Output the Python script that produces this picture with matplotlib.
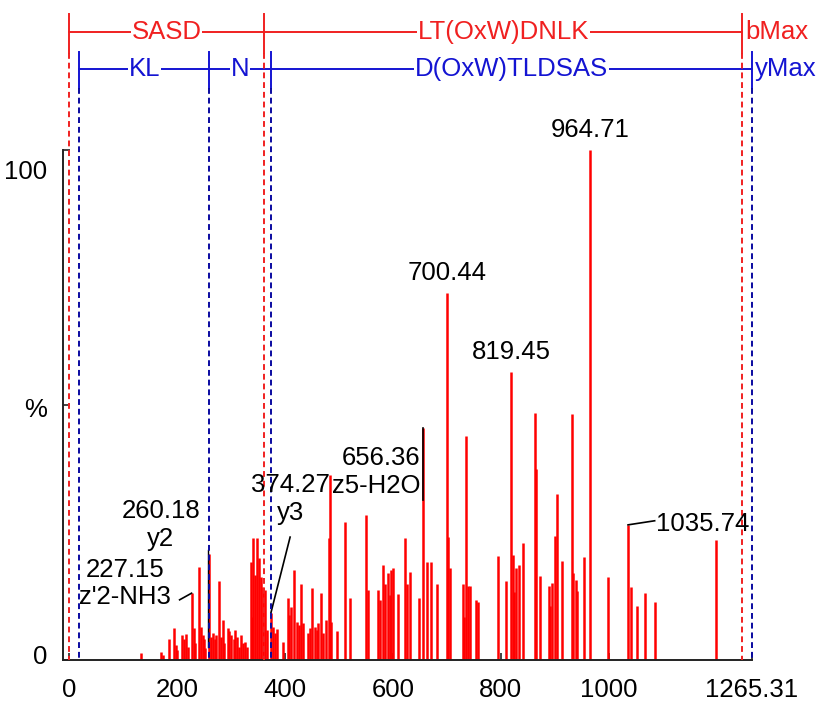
import matplotlib
matplotlib.use("Agg")
import matplotlib.pyplot as plt
import matplotlib.transforms as mtrans

plt.rcParams['font.family'] = ['Liberation Sans', 'DejaVu Sans']

# peak list (m/z, relative intensity %)
mz = [133.5, 171, 174, 186, 195, 198, 201, 209, 213, 217, 220, 227.15, 231, 234,
      240.4, 244, 248, 250, 252, 260.18, 263, 267, 270, 273, 277.5, 281, 285, 288,
      294, 297, 301, 305, 308, 311, 315, 319, 323, 326, 330, 336.8, 339, 340.5,
      344, 348, 351.5, 355, 359, 363, 367, 374.27, 378, 382, 386, 396, 405, 408,
      411, 417, 422, 426, 430, 434, 442, 446, 450.5, 455, 459, 462, 467, 471, 477,
      481, 483.5, 486, 496, 512, 521, 551, 554, 573, 576, 582, 585, 591, 594, 597,
      601, 610, 623, 627, 631, 647.6, 656.36, 663, 671, 682, 700.44, 703, 706,
      730, 732, 736, 740, 743, 754, 757, 794.7, 810, 819.45, 822.5, 825, 829, 833,
      841, 862.6, 865, 872, 888.6, 891, 894, 900, 904, 914, 931, 934, 938.6, 942,
      954.5, 964.71, 998.6, 1035.74, 1041, 1053, 1066.6, 1085, 1198]
intensity = [1.3, 1.6, 1.0, 4.2, 6.2, 2.9, 2.0, 4.9, 4.2, 5.1, 2.6, 13.1, 6.2, 3.3,
             18.3, 6.5, 4.9, 4.2, 2.3, 20.8, 4.6, 5.2, 4.2, 4.9, 15.4, 4.6, 7.8, 3.3,
             6.2, 5.6, 4.9, 4.2, 5.9, 4.6, 2.6, 4.9, 3.3, 3.6, 2.6, 19.3, 8.5, 23.9,
             16.7, 24.0, 20.0, 16.3, 14.4, 13.7, 5.9, 9.3, 6.5, 5.2, 6.0, 3.6, 12.1, 8.8,
             10.4, 17.6, 7.5, 6.9, 15.0, 7.2, 5.2, 6.2, 14.1, 6.5, 5.9, 7.2, 13.1, 5.2, 7.8,
             23.9, 36.3, 7.4, 5.7, 27.1, 12.1, 28.4, 13.7, 13.7, 11.8, 18.6, 15.0, 17.0, 12.7, 17.6,
             18.0, 13.0, 23.9, 15.0, 17.3, 12.1, 45.5, 19.3, 19.2, 15.0, 72.0, 24.2, 18.0,
             15.0, 8.5, 43.9, 14.5, 14.5, 11.7, 11.4, 20.4, 15.5, 56.5, 20.5, 13.4, 18.0, 18.6,
             23.0, 48.5, 37.5, 16.5, 14.5, 10.5, 15.1, 24.3, 32.5, 19.5, 48.3, 17.0, 15.7, 13.5,
             20.2, 100.0, 16.3, 26.5, 14.4, 10.5, 13.1, 11.4, 23.5]

# fragment ladders
b_bounds = [1.01, 361.13, 1247.30]
b_labels = ['SASD', 'LT(OxW)DNLK']
y_bounds = [19.02, 260.18, 374.22, 1265.31]
y_labels = ['KL', 'N', 'D(OxW)TLDSAS']

xticks = [0, 200, 400, 600, 800, 1000, 1265.31]
xticklabels = ['0', '200', '400', '600', '800', '1000', '1265.31']

RED = '#f02020'
BLUE = '#1414d2'
FS = 18.5

fig = plt.figure(figsize=(8.2, 7.1), dpi=100)
ax = fig.add_axes([63/820, 50/710, 689/820, 510/710])

ax.vlines(mz, 0, intensity, color='#ff0000', lw=1.8, zorder=2)

ax.set_xlim(-11, 1265.31)
ax.set_ylim(0, 100)
for s in ['top', 'right']:
    ax.spines[s].set_visible(False)
for s in ['left', 'bottom']:
    ax.spines[s].set_linewidth(1.4)
    ax.spines[s].set_color('#222222')
ax.set_xticks(xticks)
ax.set_xticklabels(xticklabels, fontsize=FS)
ax.set_yticks([0, 50, 100])
ax.set_yticklabels([])
ax.tick_params(direction='in', length=5, width=1.2, color='#222222', pad=13)

# y labels, MassLynx style
ty = mtrans.blended_transform_factory(ax.transAxes, ax.transData)
ax.text(-0.023, 95.7, '100', ha='right', va='center', fontsize=FS, transform=ty)
ax.text(-0.023, 49.0, '%', ha='right', va='center', fontsize=FS, transform=ty)
ax.text(-0.023, 0.6, '0', ha='right', va='center', fontsize=FS, transform=ty)

# ion ladders above the plot
tr = mtrans.blended_transform_factory(ax.transData, ax.transAxes)
def ya(py):
    return (660 - py) / 510

red_y, blue_y = ya(32), ya(69)
ax.plot([b_bounds[0], b_bounds[-1]], [red_y, red_y], color=RED, lw=1.4, transform=tr, clip_on=False)
for b in b_bounds:
    ax.plot([b, b], [ya(14), ya(53)], color=RED, lw=1.4, transform=tr, clip_on=False)
    ax.plot([b, b], [ya(53), 0], color=RED, lw=1.4, ls=(0, (3, 2)), transform=tr, clip_on=False, zorder=3)
for i, lab in enumerate(b_labels):
    ax.text((b_bounds[i] + b_bounds[i + 1]) / 2, red_y, lab, color=RED, fontsize=FS,
            ha='center', va='center', transform=tr,
            bbox=dict(facecolor='white', edgecolor='none', pad=0.5))
ax.text(b_bounds[-1] + 5, red_y, 'bMax', color=RED, fontsize=FS, ha='left', va='center', transform=tr)

ax.plot([y_bounds[0], y_bounds[-1]], [blue_y, blue_y], color=BLUE, lw=1.4, transform=tr, clip_on=False)
for b in y_bounds:
    ax.plot([b, b], [ya(52), ya(88)], color=BLUE, lw=1.4, transform=tr, clip_on=False)
    ax.plot([b, b], [ya(88), 0], color='#0a0aa0', lw=1.4, ls=(0, (3, 2)), transform=tr, clip_on=False, zorder=3)
for i, lab in enumerate(y_labels):
    ax.text((y_bounds[i] + y_bounds[i + 1]) / 2, blue_y, lab, color=BLUE, fontsize=FS,
            ha='center', va='center', transform=tr,
            bbox=dict(facecolor='white', edgecolor='none', pad=0.5))
ax.text(y_bounds[-1] + 5, blue_y, 'yMax', color=BLUE, fontsize=FS, ha='left', va='center', transform=tr)

# peak annotations
ax.text(964.71, 101.5, '964.71', ha='center', va='bottom', fontsize=FS, clip_on=False)
ax.text(700.44, 73.5, '700.44', ha='center', va='bottom', fontsize=FS)
ax.text(819.45, 58.0, '819.45', ha='center', va='bottom', fontsize=FS)
ax.text(651, 36.8, '656.36\nz5-H2O', ha='right', va='center', fontsize=FS, linespacing=1.2)
ax.plot([656.36, 656.36], [45.5, 31.4], color='black', lw=1.2)
ax.text(410, 31.5, '374.27\ny3', ha='center', va='center', fontsize=FS, linespacing=1.2)
ax.plot([409.7, 374.27], [24.1, 9.3], color='black', lw=1.2)
ax.text(170, 26.5, '260.18\ny2', ha='center', va='center', fontsize=FS, linespacing=1.2)
ax.plot([258.5, 258.5], [21.5, 2.5], color='black', lw=1.0)
ax.text(104, 15.0, "227.15\nz'2-NH3", ha='center', va='center', fontsize=FS, linespacing=1.2)
ax.plot([205, 227.15], [11.8, 13.1], color='black', lw=1.2)
ax.plot([1035.74, 1085], [26.5, 27.3], color='black', lw=1.2)
ax.text(1087, 26.7, '1035.74', ha='left', va='center', fontsize=FS)

fig.savefig('out.png', dpi=100)
